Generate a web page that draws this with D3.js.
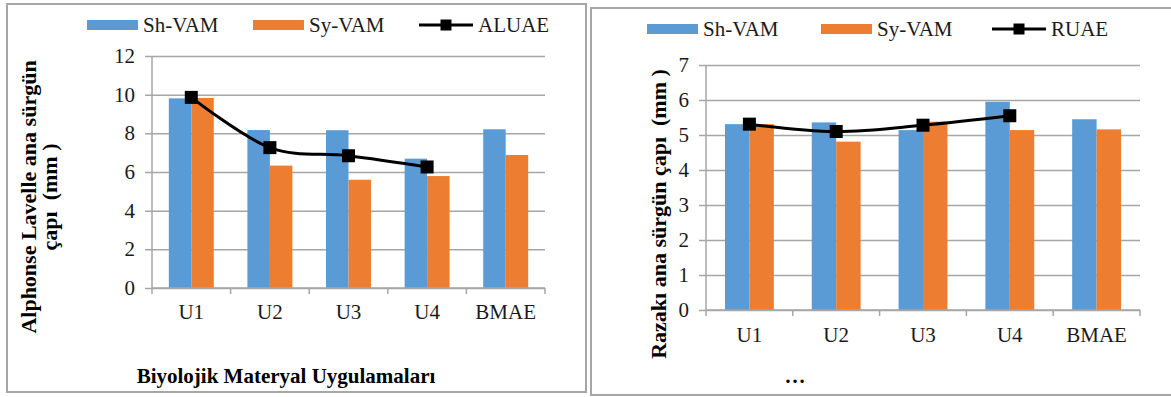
<!DOCTYPE html>
<html>
<head>
<meta charset="utf-8">
<script src="https://cdn.jsdelivr.net/npm/d3@7"></script>
<style>
  html, body { margin: 0; padding: 0; background: #fff; }
  svg { display: block; }
</style>
</head>
<body>
<svg id="fig" width="1171" height="397" font-family="Liberation Serif"></svg>
<script>
// Treatments on the category axis
const categories = ["U1", "U2", "U3", "U4", "BMAE"];
const seriesNames = ["Sh-VAM", "Sy-VAM"];

// Alphonse Lavelle: main shoot diameter (mm)
const alphonseShVAM = [9.81, 8.17, 8.16, 6.69, 8.21];
const alphonseSyVAM = [9.83, 6.33, 5.60, 5.79, 6.88];
const alphonseALUAE = [9.86, 7.26, 6.84, 6.26]; // U1–U4 only
const alphonseTicks = [0, 2, 4, 6, 8, 10, 12];

// Razakı: main shoot diameter (mm)
const razakiShVAM = [5.31, 5.36, 5.14, 5.95, 5.45];
const razakiSyVAM = [5.31, 4.81, 5.38, 5.14, 5.16];
const razakiRUAE = [5.31, 5.10, 5.28, 5.55]; // U1–U4 only
const razakiTicks = [0, 1, 2, 3, 4, 5, 6, 7];

const colors = { "Sh-VAM": "#5b9bd5", "Sy-VAM": "#ed7d31" };
const gridColor = "#a6a6a6";
const textColor = "#1a1a1a";
const FONT = "Liberation Serif";

const svg = d3.select("#fig");

function drawPanel(p) {
  const g = svg.append("g").attr("font-family", FONT);

  // panel frame
  g.append("rect")
    .attr("x", p.frame[0]).attr("y", p.frame[1])
    .attr("width", p.frame[2]).attr("height", p.frame[3])
    .attr("fill", "#fff").attr("stroke", gridColor).attr("stroke-width", 2);

  const y = d3.scaleLinear().domain([0, p.ticks[p.ticks.length - 1]]).range([p.bottom, p.top]);
  const x0 = d3.scaleBand().domain(categories).range([p.left, p.right])
    .paddingInner(p.gap).paddingOuter(p.gap / 2);
  const x1 = d3.scaleBand().domain(seriesNames).range([0, x0.bandwidth()]);

  // horizontal gridlines with short tick stubs left of the axis
  const yAxis = d3.axisLeft(y).tickValues(p.ticks)
    .tickSize(-(p.right - p.left)).tickSizeOuter(0).tickPadding(0).tickFormat("");
  const ya = g.append("g").attr("transform", `translate(${p.left},0)`).call(yAxis);
  ya.select(".domain").remove();
  ya.selectAll(".tick line")
    .attr("x1", -7).attr("stroke", gridColor).attr("stroke-width", 1.5);

  // y tick labels
  g.selectAll(".ylab").data(p.ticks).join("text")
    .attr("font-family", FONT)
    .attr("x", p.left - 17).attr("y", d => y(d) + 7)
    .attr("text-anchor", "end").attr("font-size", 21).attr("fill", textColor)
    .text(d => d);

  // bars
  const rows = categories.map((c, i) => ({ c, vals: [p.sh[i], p.sy[i]] }));
  g.selectAll(".grp").data(rows).join("g")
    .attr("transform", d => `translate(${x0(d.c)},0)`)
    .selectAll("rect").data(d => d.vals.map((v, j) => ({ s: seriesNames[j], v })))
    .join("rect")
    .attr("x", d => x1(d.s)).attr("width", x1.bandwidth())
    .attr("y", d => y(d.v)).attr("height", d => y(0) - y(d.v))
    .attr("fill", d => colors[d.s]);

  // x axis with boundary ticks
  const boundaries = d3.range(categories.length + 1).map(i => p.left + i * x0.step());
  g.append("line")
    .attr("x1", p.left).attr("x2", p.right).attr("y1", p.bottom).attr("y2", p.bottom)
    .attr("stroke", gridColor).attr("stroke-width", 1.5);
  g.append("line")
    .attr("x1", p.left).attr("x2", p.left).attr("y1", p.top).attr("y2", p.bottom)
    .attr("stroke", gridColor).attr("stroke-width", 1.5);
  g.selectAll(".xt").data(boundaries).join("line")
    .attr("x1", d => d).attr("x2", d => d)
    .attr("y1", p.bottom).attr("y2", p.bottom + 6)
    .attr("stroke", gridColor).attr("stroke-width", 1.5);

  g.selectAll(".xlab").data(categories).join("text")
    .attr("font-family", FONT)
    .attr("x", d => x0(d) + x0.bandwidth() / 2).attr("y", p.xLabelY)
    .attr("text-anchor", "middle").attr("font-size", 21).attr("fill", textColor)
    .text(d => d);

  // smoothed mean line with square markers
  const pts = p.mean.map((v, i) => [x0(categories[i]) + x0.bandwidth() / 2, y(v)]);
  g.append("path")
    .attr("d", d3.line().curve(d3.curveCardinal.tension(0))(pts))
    .attr("fill", "none").attr("stroke", "#000").attr("stroke-width", 3);
  g.selectAll(".mk").data(pts).join("rect")
    .attr("x", d => d[0] - 6.5).attr("y", d => d[1] - 6.5)
    .attr("width", 13).attr("height", 13).attr("fill", "#000");

  // legend
  const L = p.legend;
  seriesNames.forEach((s, i) => {
    g.append("rect")
      .attr("x", L.sw[i]).attr("y", L.y - 5).attr("width", 51).attr("height", 10)
      .attr("fill", colors[s]);
    g.append("text")
      .attr("font-family", FONT)
      .attr("x", L.sw[i] + 56).attr("y", L.y + 7)
      .attr("font-size", 21).attr("fill", textColor).text(s);
  });
  g.append("line")
    .attr("x1", L.line).attr("x2", L.line + 54).attr("y1", L.y).attr("y2", L.y)
    .attr("stroke", "#000").attr("stroke-width", 3);
  g.append("rect")
    .attr("x", L.line + 27 - 5.5).attr("y", L.y - 5.5).attr("width", 11).attr("height", 11)
    .attr("fill", "#000");
  g.append("text")
    .attr("font-family", FONT)
    .attr("x", L.line + 59).attr("y", L.y + 7)
    .attr("font-size", 21).attr("fill", textColor).text(p.meanName);

  // axis titles
  p.yTitle.forEach(t => {
    g.append("text")
      .attr("font-family", FONT)
      .attr("transform", `translate(${t.x},${t.cy}) rotate(-90)`)
      .attr("text-anchor", "middle").attr("font-size", 22).attr("font-weight", "bold")
      .attr("fill", "#000").style("white-space", "pre").text(t.text);
  });
  g.append("text")
    .attr("font-family", FONT)
    .attr("x", p.xTitle.x).attr("y", p.xTitle.y)
    .attr("text-anchor", "middle").attr("font-size", 21).attr("font-weight", "bold")
    .attr("fill", "#000").text(p.xTitle.text);
}

drawPanel({
  frame: [7, 4, 579, 388],
  left: 152, right: 545, top: 56, bottom: 288, gap: 0.428,
  ticks: alphonseTicks, sh: alphonseShVAM, sy: alphonseSyVAM, mean: alphonseALUAE,
  meanName: "ALUAE", xLabelY: 319,
  legend: { y: 25, sw: [87, 253], line: 419 },
  yTitle: [
    { x: 36, cy: 197, text: "Alphonse Lavelle ana sürgün" },
    { x: 57, cy: 197, text: "çapı  (mm )" }
  ],
  xTitle: { x: 286, y: 383, text: "Biyolojik Materyal Uygulamaları" }
});

drawPanel({
  frame: [591, 8, 600, 387],
  left: 706, right: 1140, top: 65, bottom: 310, gap: 0.437,
  ticks: razakiTicks, sh: razakiShVAM, sy: razakiSyVAM, mean: razakiRUAE,
  meanName: "RUAE", xLabelY: 342,
  legend: { y: 29, sw: [647, 821], line: 992 },
  yTitle: [
    { x: 666, cy: 214, text: "Razakı ana sürgün çapı  (mm )" }
  ],
  xTitle: { x: 795, y: 383, text: "…" }
});
</script>
</body>
</html>
